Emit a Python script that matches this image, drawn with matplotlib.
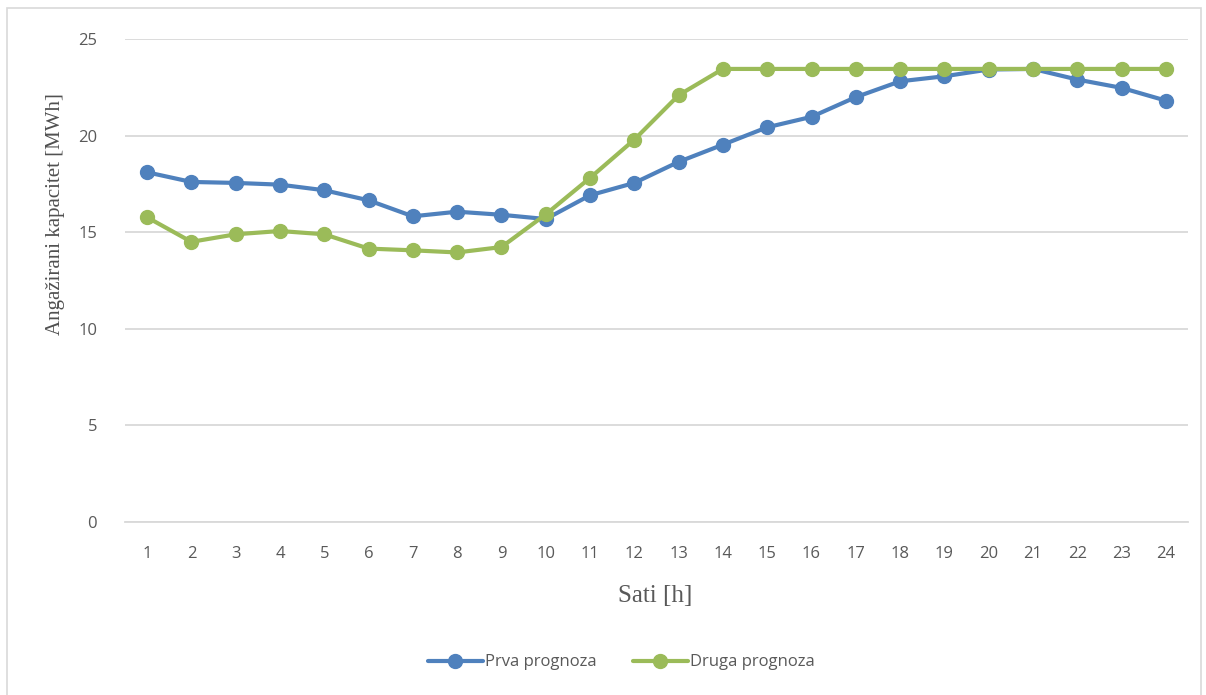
import numpy as np
import matplotlib
matplotlib.use("Agg")
import matplotlib.pyplot as plt
from matplotlib.patches import Rectangle

# data
hours = list(range(1, 25))
prva = [18.10, 17.60, 17.55, 17.46, 17.17, 16.65, 15.82, 16.06, 15.90, 15.68,
        16.91, 17.55, 18.64, 19.53, 20.43, 20.97, 21.99, 22.81, 23.07, 23.42,
        23.45, 22.90, 22.47, 21.81]
druga = [15.77, 14.50, 14.89, 15.06, 14.89, 14.15, 14.06, 13.95, 14.23, 15.92,
         17.81, 19.79, 22.09, 23.45, 23.45, 23.45, 23.45, 23.45, 23.45, 23.45,
         23.45, 23.45, 23.45, 23.45]
y_ticks = [0, 5, 10, 15, 20, 25]

BLUE = "#4F81BD"
GREEN = "#9BBB59"
GRID = "#D9D9D9"
TXT = "#595959"

fig = plt.figure(figsize=(12.06, 6.95), dpi=100)
ax = fig.add_axes([0.1036, 0.249, 0.8815, 0.6949])

# outer chart border
fig.patches.append(Rectangle((0.006, -0.01), 0.99, 0.998, transform=fig.transFigure,
                             fill=False, edgecolor=GRID, linewidth=1.2))

ax.plot(hours, prva, color=BLUE, lw=3.0, marker="o", ms=10, label="Prva prognoza",
        solid_capstyle="round", zorder=3)
ax.plot(hours, druga, color=GREEN, lw=3.0, marker="o", ms=10, label="Druga prognoza",
        solid_capstyle="round", zorder=4)

ax.set_xlim(0.5, 24.5)
ax.set_ylim(0, 25)
ax.set_xticks(hours)
ax.set_yticks(y_ticks)
ax.grid(axis="y", color=GRID, lw=1.3)
ax.set_axisbelow(True)
for s in ["top", "right", "left"]:
    ax.spines[s].set_visible(False)
ax.spines["bottom"].set_color(GRID)
ax.spines["bottom"].set_linewidth(1.3)
ax.tick_params(length=0, labelsize=12, labelcolor=TXT)
ax.tick_params(axis="x", pad=17)
ax.tick_params(axis="y", pad=20)
for lbl in ax.get_xticklabels() + ax.get_yticklabels():
    lbl.set_family("Open Sans")

ax.set_ylabel("Angažirani kapacitet [MWh]", family="Liberation Serif", fontsize=15,
              color="#505050")
ax.yaxis.set_label_coords(-0.056, 0.638)
ax.set_xlabel("Sati [h]", family="Liberation Serif", fontsize=18, color=TXT)
ax.xaxis.set_label_coords(0.4986, -0.13)

leg = fig.legend(loc="center", bbox_to_anchor=(0.515, 0.047), ncol=2, frameon=False,
                 handlelength=3.3, handletextpad=0.1, columnspacing=2.2,
                 prop={"family": "Open Sans", "size": 12})
for t in leg.get_texts():
    t.set_color(TXT)

fig.savefig("out.png", dpi=100)
